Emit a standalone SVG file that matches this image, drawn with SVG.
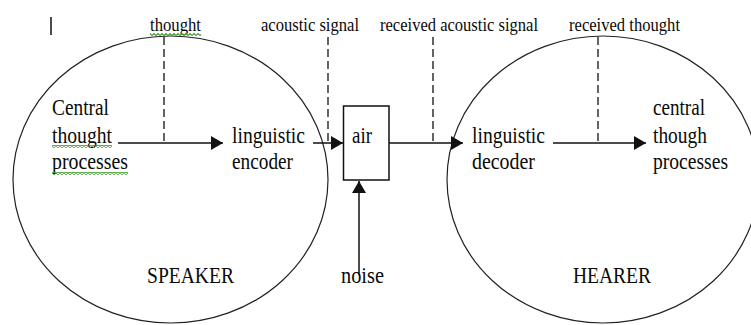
<svg xmlns="http://www.w3.org/2000/svg" width="751" height="325" viewBox="0 0 751 325">
  <style>
    text { font-family: 'Liberation Serif', 'DejaVu Serif', 'Times New Roman', Times, serif; fill: #0a0a0a; }
    .big { font-size: 23.5px; }
    .tag { font-size: 19px; }
    .ring { fill: none; stroke: #222; stroke-width: 1.2; }
    .flow { fill: none; stroke: #111; stroke-width: 1.5; }
    .dash { fill: none; stroke: #111; stroke-width: 1.3; stroke-dasharray: 8 4; }
    .box { fill: #fff; stroke: #111; stroke-width: 1.5; }
    .squiggle { fill: url(#wave); }
  </style>
  <defs>
    <marker id="head" markerUnits="userSpaceOnUse" markerWidth="12" markerHeight="14" refX="12" refY="7" orient="auto">
      <path d="M0,0 L12,7 L0,14 z" fill="#111"/>
    </marker>
    <pattern id="wave" patternUnits="userSpaceOnUse" width="4" height="3">
      <polyline points="0,2.5 2,0.5 4,2.5" fill="none" stroke="#3f9a2e" stroke-width="1.1"/>
    </pattern>
  </defs>

  <!-- stray text cursor -->
  <line x1="51" y1="17" x2="51" y2="35" stroke="#111" stroke-width="1.5"/>

  <!-- speaker -->
  <g id="speaker">
    <ellipse class="ring" cx="170.5" cy="179.5" rx="157.5" ry="143.5"/>
    <text class="big" x="147" y="283" textLength="87" lengthAdjust="spacingAndGlyphs">SPEAKER</text>
  </g>

  <!-- hearer -->
  <g id="hearer">
    <ellipse class="ring" cx="603" cy="179.5" rx="156" ry="143.5"/>
    <text class="big" x="573" y="283" textLength="78" lengthAdjust="spacingAndGlyphs">HEARER</text>
  </g>

  <g id="central-thought">
    <text class="big" x="52" y="115" textLength="57" lengthAdjust="spacingAndGlyphs">Central</text>
    <text class="big" x="52" y="143" textLength="60" lengthAdjust="spacingAndGlyphs">thought</text>
    <text class="big" x="52" y="169" textLength="76" lengthAdjust="spacingAndGlyphs">processes</text>
    <rect class="squiggle" x="52" y="145" width="60" height="3"/>
    <rect class="squiggle" x="52" y="172" width="76" height="3"/>
  </g>

  <g id="encoder">
    <text class="big" x="232" y="143" textLength="73" lengthAdjust="spacingAndGlyphs">linguistic</text>
    <text class="big" x="232" y="169" textLength="61" lengthAdjust="spacingAndGlyphs">encoder</text>
  </g>

  <g id="air">
    <rect class="box" x="343.5" y="106" width="45.5" height="74"/>
    <text class="big" x="352" y="143" textLength="20" lengthAdjust="spacingAndGlyphs">air</text>
  </g>

  <g id="noise">
    <text class="big" x="341" y="283" textLength="43" lengthAdjust="spacingAndGlyphs">noise</text>
  </g>

  <g id="decoder">
    <text class="big" x="472" y="143" textLength="73" lengthAdjust="spacingAndGlyphs">linguistic</text>
    <text class="big" x="472" y="169" textLength="63" lengthAdjust="spacingAndGlyphs">decoder</text>
  </g>

  <g id="received-processes">
    <text class="big" x="653" y="115" textLength="52" lengthAdjust="spacingAndGlyphs">central</text>
    <text class="big" x="653" y="143" textLength="54" lengthAdjust="spacingAndGlyphs">though</text>
    <text class="big" x="653" y="169" textLength="75" lengthAdjust="spacingAndGlyphs">processes</text>
  </g>

  <!-- stage labels along the top -->
  <g id="labels">
    <text class="tag" x="150" y="31" textLength="51" lengthAdjust="spacingAndGlyphs">thought</text>
    <rect class="squiggle" x="150" y="33" width="51" height="3"/>
    <text class="tag" x="261" y="31" textLength="98" lengthAdjust="spacingAndGlyphs">acoustic signal</text>
    <text class="tag" x="380" y="31" textLength="158" lengthAdjust="spacingAndGlyphs">received acoustic signal</text>
    <text class="tag" x="569" y="31" textLength="111" lengthAdjust="spacingAndGlyphs">received thought</text>
  </g>

  <g id="connectors">
    <line class="flow" x1="118" y1="143" x2="223" y2="143" marker-end="url(#head)"/>
    <line class="flow" x1="313" y1="143" x2="343" y2="143" marker-end="url(#head)"/>
    <line class="flow" x1="389" y1="143" x2="463" y2="143" marker-end="url(#head)"/>
    <line class="flow" x1="553" y1="143" x2="646" y2="143" marker-end="url(#head)"/>
    <line class="flow" x1="359" y1="275" x2="359" y2="181" marker-end="url(#head)"/>
    <line class="dash" x1="164" y1="37" x2="164" y2="143"/>
    <line class="dash" x1="328" y1="37" x2="328" y2="143"/>
    <line class="dash" x1="433" y1="37" x2="433" y2="143"/>
    <line class="dash" x1="598" y1="37" x2="598" y2="143"/>
  </g>
</svg>
